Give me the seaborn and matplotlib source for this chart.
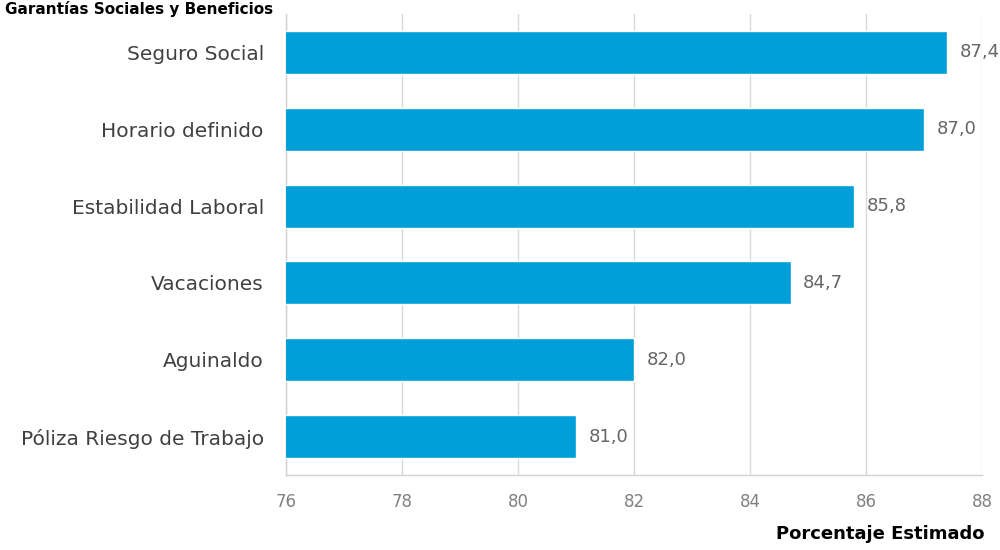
import matplotlib
matplotlib.use("Agg")
import matplotlib.pyplot as plt
import seaborn as sns
import pandas as pd

categories = ["Seguro Social", "Horario definido", "Estabilidad Laboral",
              "Vacaciones", "Aguinaldo", "Póliza Riesgo de Trabajo"]
values = [87.4, 87.0, 85.8, 84.7, 82.0, 81.0]
x_ticks = [76, 78, 80, 82, 84, 86, 88]
title = "Garantías Sociales y Beneficios"
xlabel = "Porcentaje Estimado"

sns.set_theme(style="white")
plt.rcParams['font.family'] = ['DejaVu Sans']

df = pd.DataFrame({"cat": categories, "val": values})

fig = plt.figure(figsize=(10, 5.5), dpi=100)
ax = fig.add_axes([0.286, 0.1364, 0.696, 0.838])
sns.barplot(data=df, x="val", y="cat", orient="h", color="#009FDA",
            saturation=1, width=0.56, ax=ax, zorder=3)

ax.set_xlim(76, 88)
ax.set_xticks(x_ticks)
ax.set_xticklabels([str(t) for t in x_ticks], color="#808080", fontsize=12)
ax.tick_params(axis='x', length=0, pad=13)
ax.tick_params(axis='y', length=0, pad=16)
for lab in ax.get_yticklabels():
    lab.set_color("#404040")
    lab.set_fontsize(14.5)
ax.set_ylabel("")
ax.set_xlabel("")
ax.grid(axis='x', color="#d9d9d9", linewidth=1, zorder=0)
for s in ["top", "right"]:
    ax.spines[s].set_visible(False)
for s in ["left", "bottom"]:
    ax.spines[s].set_color("#d0d0d0")
    ax.spines[s].set_linewidth(1)

ax.bar_label(ax.containers[0], labels=[f"{v:.1f}".replace(".", ",") for v in values],
             padding=9, color="#666666", fontsize=13)

fig.text(0.985, 0.012, xlabel, ha="right", va="bottom", fontsize=13,
         fontweight="bold", color="#000000")
fig.text(0.005, 0.999, title, ha="left", va="top", fontsize=11,
         fontweight="bold", color="#000000")

fig.savefig("out.png", dpi=100)
